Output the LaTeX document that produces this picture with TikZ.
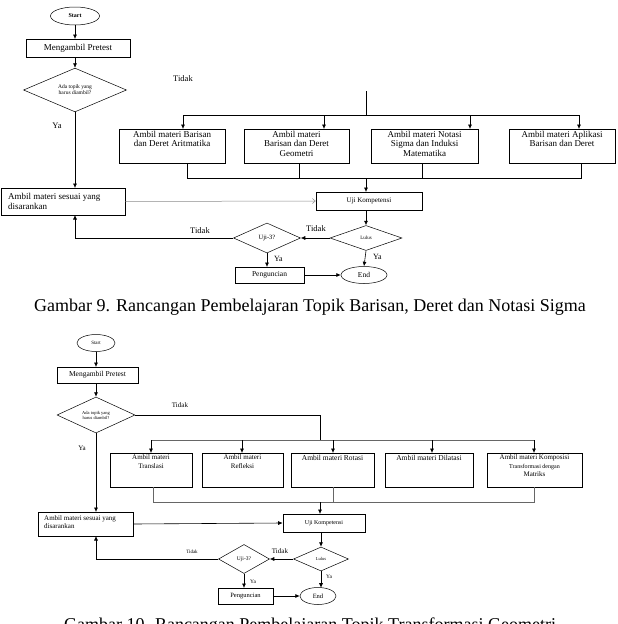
\documentclass[tikz,border=0pt]{standalone}
\usepackage{fontspec}
\setmainfont{Liberation Serif}
\usetikzlibrary{shapes.geometric,arrows.meta}
\tikzset{
  box/.style={draw, line width=0.6pt, rectangle, inner sep=0pt},
  dmd/.style={draw, line width=0.5pt, diamond, inner sep=0pt, align=center},
  term/.style={draw, line width=0.5pt, ellipse, inner sep=0pt},
  btext/.style={anchor=north, align=center, inner sep=2pt},
  lbl/.style={inner sep=0pt},
  ln/.style={line width=0.6pt},
  arr/.style={line width=0.6pt, -{Latex[length=4.5pt,width=4pt]}},
  garr/.style={line width=0.5pt, black!45, -{Straight Barb[length=3pt,width=5pt]}},
}
\begin{document}
\begin{tikzpicture}[x=1pt,y=-1pt]
\useasboundingbox (0,0) rectangle (618,624);
\fill[white] (0,0) rectangle (618,624);

% ===================== Diagram 1 =====================
\node[term, minimum width=49, minimum height=18, font=\fontsize{6}{7}\selectfont\bfseries] (start1) at (75,16) {Start};
\node[box, minimum width=104, minimum height=18, font=\fontsize{9}{10}\selectfont] (pre1) at (78,48) {Mengambil Pretest\hspace{10pt}};
\node[dmd, minimum width=103, minimum height=37, font=\fontsize{5.5}{6}\selectfont] (d1) at (75,90) {Ada topik yang\\harus diambil?};
\node[lbl, font=\fontsize{8.5}{9}\selectfont] (ya1) at (57,126) {Ya};
\node[lbl, font=\fontsize{8.5}{9}\selectfont] (tidak1) at (183,79) {Tidak};

\node[box, minimum width=106, minimum height=34] (b1) at (172,146) {};
\node[box, minimum width=105, minimum height=34] (b2) at (296.5,146) {};
\node[box, minimum width=107, minimum height=34] (b3) at (424.5,146) {};
\node[box, minimum width=106, minimum height=34] (b4) at (562,146) {};
\node[btext, font=\fontsize{9}{9.5}\selectfont] (t1) at (b1.north) {Ambil materi Barisan\\dan Deret Aritmatika};
\node[btext, font=\fontsize{9}{9.5}\selectfont] (t2) at (b2.north) {Ambil materi\\Barisan dan Deret\\Geometri};
\node[btext, font=\fontsize{9}{9.5}\selectfont] (t3) at (b3.north) {Ambil materi Notasi\\Sigma dan Induksi\\Matematika};
\node[btext, font=\fontsize{9}{9.5}\selectfont] (t4) at (b4.north) {Ambil materi Aplikasi\\Barisan dan Deret};

\coordinate (top1) at (366,91);
\coordinate (bus1) at (366,115);
\draw[ln] (top1) -- (bus1);
\draw[ln] (183,115) -- (579,115);
\draw[arr] (183,115) -- (183,129);
\draw[arr] (324,115) -- (324,129);
\draw[arr] (470,115) -- (470,129);
\draw[arr] (579,115) -- (579,129);

\draw[ln] (187,163) -- (187,178) -- (581,178) -- (581,163);
\draw[ln] (299,163) -- (299,178);
\draw[ln] (422,163) -- (422,178);

\node[box, minimum width=106, minimum height=18, font=\fontsize{7}{8}\selectfont] (uji1) at (369,201) {Uji Kompetensi};
\draw[arr] (366,178) -- (366,192);

\node[box, minimum width=124, minimum height=27] (ses1) at (63,201.5) {};
\node[anchor=west, align=left, inner sep=0pt, font=\fontsize{9}{10}\selectfont] (ses1t) at (8,201.5) {Ambil materi sesuai yang\\disarankan};

\draw[arr] (start1.south) -- (75,39);
\draw[arr] (75,57) -- (d1.north);
\draw[arr] (d1.south) -- (75,188);
\draw[garr] (ses1.east) -- (uji1.west);

\node[dmd, minimum width=72, minimum height=25, font=\fontsize{5}{6}\selectfont] (lulus1) at (366,238) {Lulus};
\draw[arr] (366,210) -- (lulus1.north);
\node[dmd, minimum width=67, minimum height=30, font=\fontsize{6.5}{7}\selectfont] (uji31) at (267,238) {Uji-3?};
\draw[arr] (lulus1.west) -- (uji31.east);
\node[lbl, font=\fontsize{8.5}{9}\selectfont] (tidak2) at (316,229) {Tidak};
\draw[arr] (uji31.west) -- (75,238) -- (75,215);
\node[lbl, font=\fontsize{8.5}{9}\selectfont] (tidak3) at (200,231) {Tidak};

\node[box, minimum width=69, minimum height=16, font=\fontsize{7.5}{8}\selectfont] (peng1) at (269.5,275) {Penguncian};
\draw[arr] (uji31.south) -- (267,267);
\node[lbl, anchor=west, font=\fontsize{8}{9}\selectfont] (ya2) at (274,259) {Ya};
\node[term, minimum width=46, minimum height=17, font=\fontsize{7.5}{8}\selectfont] (end1) at (364,275) {End};
\draw[arr] (peng1.east) -- (end1.west);
\draw[arr] (lulus1.south) -- (end1.north);
\node[lbl, anchor=west, font=\fontsize{8}{9}\selectfont] (ya3) at (373,257) {Ya};

\node[font=\fontsize{18}{20}\selectfont, inner sep=0pt] (cap1) at (310,307) {Gambar 9. Rancangan Pembelajaran Topik Barisan, Deret dan Notasi Sigma};

% ===================== Diagram 2 =====================
\node[term, minimum width=38, minimum height=17, font=\fontsize{5}{6}\selectfont] (start2) at (96,343) {Start};
\node[box, minimum width=81, minimum height=16, font=\fontsize{7.5}{8}\selectfont] (pre2) at (97.5,375) {Mengambil Pretest};
\node[dmd, minimum width=78, minimum height=36, font=\fontsize{4.5}{5}\selectfont] (d2) at (96,415) {Ada topik yang\\harus diambil?};
\draw[arr] (start2.south) -- (96,367);
\draw[arr] (96,383) -- (d2.north);
\node[lbl, font=\fontsize{7}{8}\selectfont] (tidak4) at (180,405) {Tidak};
\node[lbl, font=\fontsize{7}{8}\selectfont] (ya4) at (82,448) {Ya};

\coordinate (bus2) at (320,440);
\draw[ln] (d2.east) -- (320,415) -- (bus2);
\draw[ln, black!60] (151,440) -- (534,440);
\foreach \xx in {151,242,333,432,534} \draw[arr] (\xx,440) -- (\xx,453);

\node[box, minimum width=82, minimum height=34] (c1) at (151,470) {};
\node[box, minimum width=81, minimum height=34] (c2) at (242.5,470) {};
\node[box, minimum width=83, minimum height=34] (c3) at (332.5,470) {};
\node[box, minimum width=88, minimum height=34] (c4) at (429,470) {};
\node[box, minimum width=95, minimum height=34] (c5) at (534.5,470) {};
\node[btext, font=\fontsize{7}{8.5}\selectfont] (s1) at (c1.north) {Ambil materi\\Translasi};
\node[btext, font=\fontsize{7}{8.5}\selectfont] (s2) at (c2.north) {Ambil materi\\Refleksi};
\node[btext, font=\fontsize{7.5}{8.5}\selectfont] (s3) at (c3.north) {Ambil materi Rotasi};
\node[btext, font=\fontsize{7.5}{8.5}\selectfont] (s4) at (c4.north) {Ambil materi Dilatasi};
\node[btext, font=\fontsize{7}{8.5}\selectfont] (s5) at (c5.north) {Ambil materi Komposisi\\{\fontsize{6}{7}\selectfont Transformasi dengan}\\Matriks};

\draw[ln, black!60] (153,487) -- (153,502) -- (534,502) -- (534,487);
\draw[ln, black!60] (333,487) -- (333,502);

\node[box, minimum width=82, minimum height=18, font=\fontsize{6}{7}\selectfont] (uji2) at (324,523) {Uji Kompetensi};
\draw[arr] (320,502) -- (320,514);

\node[box, minimum width=95, minimum height=24] (ses2) at (85.5,524) {};
\node[anchor=west, align=left, inner sep=0pt, font=\fontsize{7}{8}\selectfont] (ses2t) at (44,522) {Ambil materi sesuai yang\\disarankan};
\draw[arr] (d2.south) -- (96,512);
\draw[arr] (ses2.east) -- (uji2.west);

\node[dmd, minimum width=55, minimum height=24, font=\fontsize{4.5}{5}\selectfont] (lulus2) at (321,559) {Lulus};
\draw[arr] (321,532) -- (lulus2.north);
\node[dmd, minimum width=51, minimum height=29, font=\fontsize{5.5}{6}\selectfont] (uji32) at (244,559) {Uji-3?};
\draw[arr] (lulus2.west) -- (uji32.east);
\node[lbl, font=\fontsize{7}{8}\selectfont] (tidak5) at (280,551) {Tidak};
\draw[arr] (uji32.west) -- (96,559) -- (96,536);
\node[lbl, font=\fontsize{5}{6}\selectfont] (tidak6) at (192,552) {Tidak};

\node[box, minimum width=55, minimum height=16, font=\fontsize{6.5}{7}\selectfont] (peng2) at (245.5,596) {Penguncian};
\draw[arr] (uji32.south) -- (244,588);
\node[lbl, anchor=west, font=\fontsize{5.5}{6}\selectfont] (ya5) at (250,582) {Ya};
\node[term, minimum width=36, minimum height=17, font=\fontsize{6.5}{7}\selectfont] (end2) at (318,596) {End};
\draw[arr] (peng2.east) -- (end2.west);
\draw[arr] (lulus2.south) -- (321,587.7);
\node[lbl, anchor=west, font=\fontsize{5.5}{6}\selectfont] (ya6) at (326,577) {Ya};

\node[font=\fontsize{18}{20}\selectfont, inner sep=0pt, anchor=north] (cap2) at (310,618) {Gambar 10. Rancangan Pembelajaran Topik Transformasi Geometri};
\end{tikzpicture}
\end{document}
